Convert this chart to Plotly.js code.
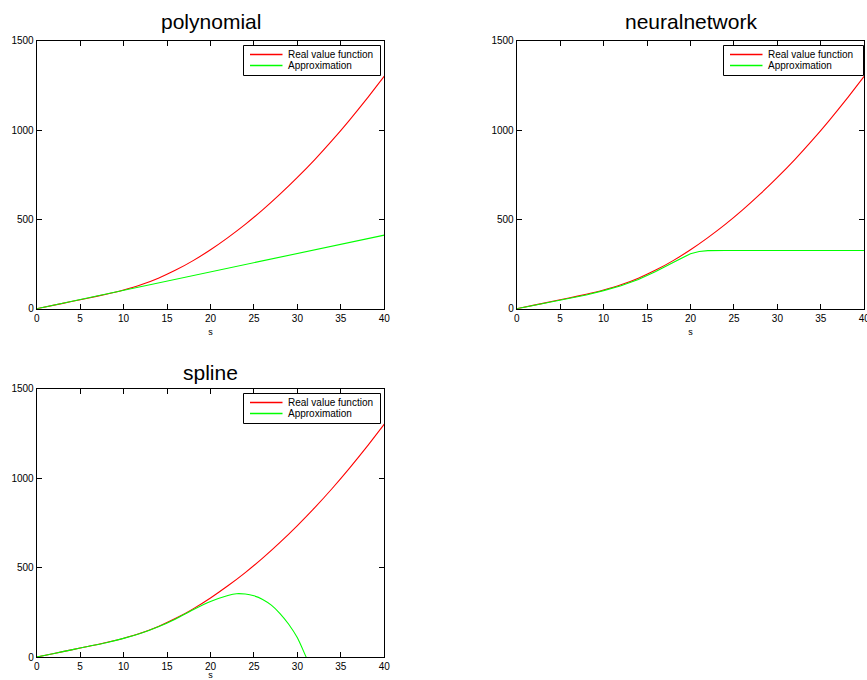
<!DOCTYPE html>
<html>
<head>
<meta charset="utf-8">
<script src="https://cdn.plot.ly/plotly-3.0.1.min.js"></script>
<style>html,body{margin:0;padding:0;background:#fff;}#chart{width:867px;height:680px;}</style>
</head>
<body>
<div id="chart"></div>
<script>
// ---- data ----
var panelTitles = ["polynomial", "neuralnetwork", "spline"];
var seriesNames = ["Real value function", "Approximation"];
var xTicks = [0, 5, 10, 15, 20, 25, 30, 35, 40];
var yTicks = [0, 500, 1000, 1500];

var sReal = [0, 2, 4, 6, 8, 10, 12, 14, 16, 18, 20, 22, 24, 26, 28, 30, 32, 34, 36, 38, 40];
var realValue = [0, 20, 40, 60, 81, 105, 134, 171, 216, 269, 330, 398, 472, 553, 641, 735, 835, 942, 1056, 1176, 1302];

var sPoly = [0, 10, 20, 30, 40];
var polyApprox = [0, 103, 206, 309, 412];

var sNN = [0, 2, 4, 6, 8, 10, 12, 14, 16, 18, 19, 20, 21, 22, 24, 30, 40];
var nnApprox = [0, 19, 38, 57, 77, 101, 128, 164, 208, 258, 284, 308, 320, 325, 326, 326, 326];

var sSpl = [0, 2, 4, 6, 8, 10, 12, 14, 16, 18, 20, 22, 23, 24, 25, 26, 27, 28, 29, 30, 31, 32];
var splApprox = [0, 20, 40, 60, 80, 104, 133, 169, 213, 264, 310, 344, 354, 352, 342, 322, 290, 243, 183, 107, 0, -110];

// ---- styling ----
var W = 867, H = 680;
var FONT = "Liberation Sans, Arial, Helvetica, sans-serif";
var RED = "rgb(255,0,0)", GREEN = "rgb(0,255,0)";
var COLORS = [RED, GREEN];

function px2x(p) { return p / W; }
function px2y(p) { return 1 - p / H; }

var dom = [
  {x: [px2x(36.7), px2x(384.3)], y: [px2y(308.7), px2y(40.7)]},
  {x: [px2x(516.7), px2x(864.3)], y: [px2y(308.7), px2y(40.7)]},
  {x: [px2x(36.7), px2x(384.3)], y: [px2y(657), px2y(388.7)]}
];

var approxX = [sPoly, sNN, sSpl];
var approxY = [polyApprox, nnApprox, splApprox];
var approxShape = ["linear", "linear", "spline"];

var traces = [];
for (var i = 0; i < 3; i++) {
  var xa = i === 0 ? "x" : "x" + (i + 1);
  var ya = i === 0 ? "y" : "y" + (i + 1);
  traces.push({
    x: sReal, y: realValue, xaxis: xa, yaxis: ya, type: "scatter", mode: "lines",
    name: seriesNames[0], showlegend: false,
    line: {color: RED, width: 1.1, shape: "spline", smoothing: 0.6}
  });
  traces.push({
    x: approxX[i], y: approxY[i], xaxis: xa, yaxis: ya, type: "scatter", mode: "lines",
    name: seriesNames[1], showlegend: false,
    line: {color: GREEN, width: 1.1, shape: approxShape[i], smoothing: 0.6}
  });
}

function xAxis(d, anchor) {
  return {
    domain: d, anchor: anchor, range: [0, 40], tickvals: xTicks, ticktext: xTicks.map(String),
    ticks: "inside", ticklen: 5, tickwidth: 1, tickcolor: "#000",
    showline: true, linecolor: "#000", linewidth: 1, mirror: "ticks",
    showgrid: false, zeroline: false, fixedrange: true, ticklabeloverflow: "allow",
    tickfont: {family: FONT, size: 10, color: "#000"},
    title: {text: "s", font: {family: FONT, size: 9, color: "#000"}, standoff: 5}
  };
}
function yAxis(d, anchor) {
  return {
    domain: d, anchor: anchor, range: [0, 1500], tickvals: yTicks, ticktext: yTicks.map(String),
    ticks: "inside", ticklen: 5, tickwidth: 1, tickcolor: "#000",
    showline: true, linecolor: "#000", linewidth: 1, mirror: "ticks",
    showgrid: false, zeroline: false, fixedrange: true, ticklabeloverflow: "allow",
    tickfont: {family: FONT, size: 10, color: "#000"}
  };
}

var annotations = [];
var shapes = [];
var titleY = [22, 22, 372];
var titleX = [210.5, 690.5, 210.5];
for (var k = 0; k < 3; k++) {
  annotations.push({
    text: panelTitles[k], xref: "paper", yref: "paper",
    x: px2x(titleX[k]), y: px2y(titleY[k]), xanchor: "center", yanchor: "middle",
    showarrow: false, font: {family: FONT, size: 21, color: "#000"}
  });
}

// legend boxes (MATLAB-style, compact)
var legendBoxes = [
  {l: 243.5, r: 380.5, t: 45.5, b: 75.5},
  {l: 723.5, r: 863.5, t: 45.5, b: 75.5},
  {l: 243.5, r: 380.5, t: 393.5, b: 423.5}
];
legendBoxes.forEach(function (bx) {
  shapes.push({type: "rect", xref: "paper", yref: "paper",
    x0: px2x(bx.l), x1: px2x(bx.r), y0: px2y(bx.b), y1: px2y(bx.t),
    line: {color: "#000", width: 1}, fillcolor: "#fff", layer: "above"});
});
legendBoxes.forEach(function (bx) {
  for (var j = 0; j < 2; j++) {
    var yy = bx.t + 9 + j * 11;
    shapes.push({type: "line", xref: "paper", yref: "paper",
      x0: px2x(bx.l + 6.5), x1: px2x(bx.l + 39), y0: px2y(yy), y1: px2y(yy),
      line: {color: COLORS[j], width: 1.3}, layer: "above"});
    annotations.push({text: seriesNames[j], xref: "paper", yref: "paper",
      x: px2x(bx.l + 42), y: px2y(yy), xanchor: "left", yanchor: "middle",
      showarrow: false, font: {family: FONT, size: 10, color: "#000"}});
  }
});

var layout = {
  width: W, height: H,
  margin: {l: 0, r: 0, t: 0, b: 0},
  paper_bgcolor: "#fff", plot_bgcolor: "#fff",
  showlegend: false,
  xaxis: xAxis(dom[0].x, "y"), yaxis: yAxis(dom[0].y, "x"),
  xaxis2: xAxis(dom[1].x, "y2"), yaxis2: yAxis(dom[1].y, "x2"),
  xaxis3: xAxis(dom[2].x, "y3"), yaxis3: yAxis(dom[2].y, "x3"),
  shapes: shapes,
  annotations: annotations
};

Plotly.newPlot("chart", traces, layout, {staticPlot: true, displayModeBar: false});
</script>
</body>
</html>
